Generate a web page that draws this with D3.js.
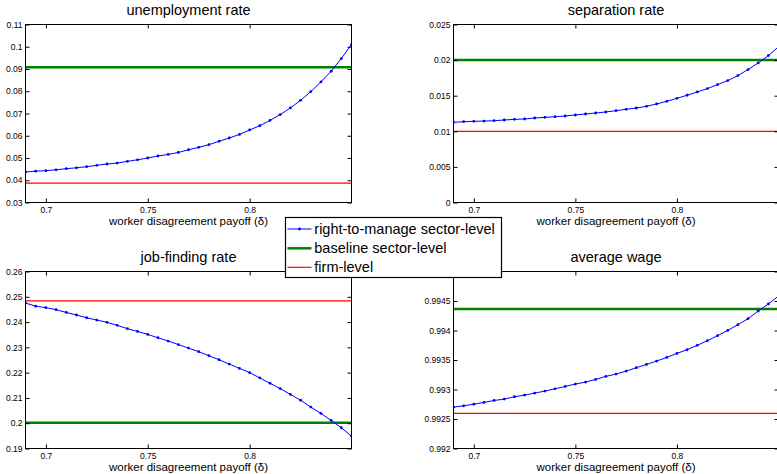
<!DOCTYPE html>
<html><head><meta charset="utf-8">
<script src="https://cdn.jsdelivr.net/npm/d3@7"></script>
<style>
body{margin:0;background:#fff}
svg{display:block}
text{font-family:"Liberation Sans",Arial,Helvetica,sans-serif;fill:#000}
</style>
</head><body><svg width="777" height="474"></svg>
<script>
// ---------------- DATA ----------------
const delta = [0.690,0.695,0.700,0.705,0.710,0.715,0.720,0.725,0.730,0.735,0.740,0.745,0.750,0.755,0.760,0.765,0.770,
               0.775,0.780,0.785,0.790,0.795,0.800,0.805,0.810,0.815,0.820,0.825,0.830,0.835,0.840,0.845,0.850];

const unemployment = [0.0437,0.0441,0.0443,0.0447,0.0452,0.0456,0.0461,0.0467,0.0473,0.0477,0.0485,0.0492,0.0500,
                      0.0509,0.0516,0.0525,0.0537,0.0548,0.0560,0.0575,0.0590,0.0606,0.0626,0.0645,0.0669,0.0695,
                      0.0725,0.0759,0.0798,0.0842,0.0890,0.0947,0.1010];

const separation = [0.01126,0.01135,0.01140,0.01144,0.01149,0.01159,0.01168,0.01173,0.01187,0.01196,0.01205,0.01215,
                    0.01229,0.01243,0.01257,0.01271,0.01290,0.01309,0.01327,0.01351,0.01384,0.01421,0.01463,0.01506,
                    0.01553,0.01600,0.01656,0.01712,0.01782,0.01867,0.01960,0.02064,0.02186];

const jobFinding = [0.2475,0.2463,0.2457,0.2449,0.2438,0.2428,0.2417,0.2408,0.2399,0.2387,0.2374,0.2363,0.2351,
                    0.2338,0.2325,0.2311,0.2297,0.2283,0.2267,0.2251,0.2234,0.2217,0.2200,0.2179,0.2158,0.2137,
                    0.2114,0.2091,0.2064,0.2039,0.2011,0.1982,0.1949];

const avgWage = [0.992701,0.992724,0.992752,0.992781,0.992814,0.992837,0.992877,0.992905,0.992939,0.992973,0.993012,
                 0.993052,0.993092,0.993126,0.993171,0.993222,0.993261,0.993312,0.993369,0.993425,0.993482,0.993544,
                 0.993612,0.993674,0.993748,0.993827,0.993912,0.994002,0.994098,0.994200,0.994330,0.994449,0.994585];

// baseline sector-level and firm-level values per panel (unemployment, separation, job-finding, wage)
const baselineLevel = [0.0908, 0.0200, 0.2002, 0.994364];
const firmLevel     = [0.0387, 0.0100, 0.2484, 0.992594];

const titles = ["unemployment rate", "separation rate", "job-finding rate", "average wage"];
const xTicks = [0.7, 0.75, 0.8];
const xDomain = [0.69, 0.85];
const yDomains = [[0.03, 0.11], [0, 0.025], [0.19, 0.26], [0.992, 0.995]];
const yTicks = [
  [0.03,0.04,0.05,0.06,0.07,0.08,0.09,0.1,0.11],
  [0,0.005,0.01,0.015,0.02,0.025],
  [0.19,0.2,0.21,0.22,0.23,0.24,0.25,0.26],
  [0.992,0.9925,0.993,0.9935,0.994,0.9945,0.995]
];
const xLabel = "worker disagreement payoff (\u03b4)";
const legendLabels = ["right-to-manage sector-level", "baseline sector-level", "firm-level"];
const series = [unemployment, separation, jobFinding, avgWage];

// ---------------- LAYOUT ----------------
const BLUE = "#0000ff", GREEN = "#008000", RED = "#ff0000";
const boxes = [
  {x0: 25.5,  x1: 351.5, y0: 24.5,  y1: 202.5},
  {x0: 453.5, x1: 778.5, y0: 24.5,  y1: 202.5},
  {x0: 25.5,  x1: 351.5, y0: 271.5, y1: 448.5},
  {x0: 453.5, x1: 778.5, y0: 271.5, y1: 448.5}
];

const svg = d3.select("svg");
const fmt = v => String(+v.toFixed(5));

boxes.forEach((b, i) => {
  const x = d3.scaleLinear().domain(xDomain).range([b.x0, b.x1]);
  const y = d3.scaleLinear().domain(yDomains[i]).range([b.y1, b.y0]);
  const g = svg.append("g");

  const clipId = "clip" + i;
  svg.append("clipPath").attr("id", clipId).append("rect")
    .attr("x", b.x0).attr("y", b.y0).attr("width", b.x1 - b.x0).attr("height", b.y1 - b.y0);
  const plot = g.append("g").attr("clip-path", `url(#${clipId})`);

  // horizontal reference lines
  plot.append("line").attr("x1", x(xDomain[0])).attr("x2", x(xDomain[1]))
    .attr("y1", y(baselineLevel[i])).attr("y2", y(baselineLevel[i]))
    .attr("stroke", GREEN).attr("stroke-width", 2.5);
  plot.append("line").attr("x1", x(xDomain[0])).attr("x2", x(xDomain[1]))
    .attr("y1", y(firmLevel[i])).attr("y2", y(firmLevel[i]))
    .attr("stroke", RED).attr("stroke-width", 1.2);

  const data = delta.map((d, k) => [d, series[i][k]]);
  plot.append("path").datum(data)
    .attr("d", d3.line().x(d => x(d[0])).y(d => y(d[1])))
    .attr("fill", "none").attr("stroke", BLUE).attr("stroke-width", 1);
  plot.selectAll("circle").data(data).join("circle")
    .attr("cx", d => x(d[0])).attr("cy", d => y(d[1])).attr("r", 1.4).attr("fill", BLUE);

  // axes (inward ticks on all sides)
  const ax = (sel) => { sel.select(".domain").remove(); sel.selectAll("line").attr("stroke", "#000"); };
  g.append("g").attr("transform", `translate(${b.x0},0)`)
    .call(d3.axisLeft(y).tickValues(yTicks[i]).tickSize(-4).tickPadding(3).tickFormat(fmt))
    .call(ax).call(s => s.selectAll("text").attr("font-size", 8.5).style("font-family", '"Liberation Sans",Arial,sans-serif'));
  g.append("g").attr("transform", `translate(${b.x1},0)`)
    .call(d3.axisRight(y).tickValues(yTicks[i]).tickSize(-4).tickFormat(""))
    .call(ax);
  g.append("g").attr("transform", `translate(0,${b.y1})`)
    .call(d3.axisBottom(x).tickValues(xTicks).tickSize(-4).tickPadding(4.3).tickFormat(fmt))
    .call(ax).call(s => s.selectAll("text").attr("font-size", 8.5).style("font-family", '"Liberation Sans",Arial,sans-serif'));
  g.append("g").attr("transform", `translate(0,${b.y0})`)
    .call(d3.axisTop(x).tickValues(xTicks).tickSize(-4).tickFormat(""))
    .call(ax);

  g.append("rect").attr("x", b.x0).attr("y", b.y0).attr("width", b.x1 - b.x0).attr("height", b.y1 - b.y0)
    .attr("fill", "none").attr("stroke", "#000").attr("stroke-width", 1);

  const cx = (x(xDomain[0]) + x(xDomain[1])) / 2;
  g.append("text").attr("x", cx).attr("y", b.y0 - 9.8).attr("text-anchor", "middle")
    .attr("font-size", 14.5).text(titles[i]);
  g.append("text").attr("x", cx).attr("y", b.y1 + 22.5).attr("text-anchor", "middle")
    .attr("font-size", 11.5).text(xLabel);
});

// ---------------- LEGEND ----------------
const lg = svg.append("g");
lg.append("rect").attr("x", 285.5).attr("y", 217.5).attr("width", 216).attr("height", 60)
  .attr("fill", "#fff").attr("stroke", "#000").attr("stroke-width", 1.2);
const legendColors = [BLUE, GREEN, RED];
const legendWidths = [1, 2.5, 1.2];
const rowY = [229, 248.3, 267.3];
legendLabels.forEach((lab, k) => {
  lg.append("line").attr("x1", 287.5).attr("x2", 311.5).attr("y1", rowY[k]).attr("y2", rowY[k])
    .attr("stroke", legendColors[k]).attr("stroke-width", legendWidths[k]);
  if (k === 0) lg.append("circle").attr("cx", 299.5).attr("cy", rowY[k]).attr("r", 1.4).attr("fill", BLUE);
  lg.append("text").attr("x", 314.3).attr("y", rowY[k] + 5).attr("font-size", 14.5).text(lab);
});
</script>
</body></html>
